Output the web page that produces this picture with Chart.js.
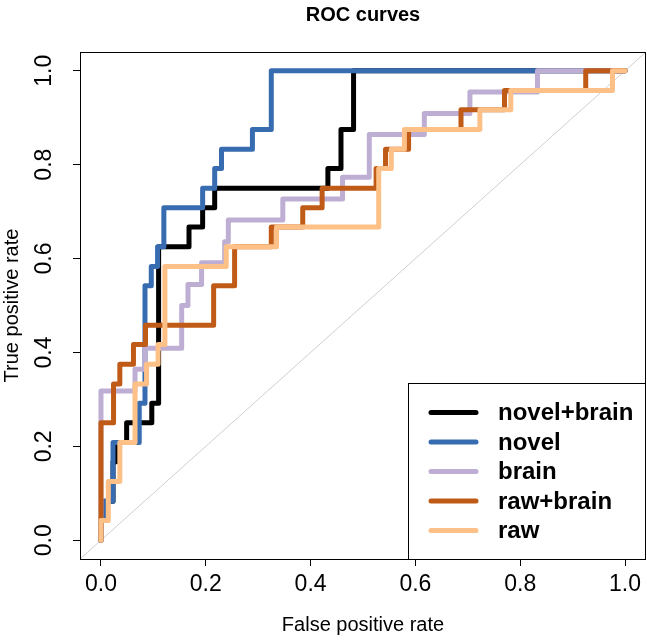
<!DOCTYPE html>
<html>
<head>
<meta charset="utf-8">
<script src="https://cdn.jsdelivr.net/npm/chart.js@4.4.1/dist/chart.umd.min.js"></script>
<style>
html,body{margin:0;padding:0;background:#ffffff;}
#wrap{width:647px;height:641px;}
</style>
</head>
<body>
<div id="wrap"><canvas id="c" width="647" height="641"></canvas></div>
<script>
// ---- data (ROC step curves: false positive rate / true positive rate) ----
const seriesNames = ['novel+brain', 'novel', 'brain', 'raw+brain', 'raw'];
const seriesColors = ['#000000', '#386cb0', '#beaed4', '#bf5b17', '#fdc086'];

const novelBrainFpr = [0, 0, 0.006, 0.006, 0.023, 0.023, 0.03, 0.03, 0.049, 0.049, 0.097, 0.097, 0.11, 0.11, 0.168, 0.168, 0.194, 0.194, 0.217, 0.217, 0.433, 0.433, 0.458, 0.458, 0.482, 0.482, 1];
const novelBrainTpr = [0, 0.042, 0.042, 0.083, 0.083, 0.167, 0.167, 0.208, 0.208, 0.25, 0.25, 0.292, 0.292, 0.625, 0.625, 0.667, 0.667, 0.708, 0.708, 0.75, 0.75, 0.792, 0.792, 0.875, 0.875, 1, 1];

const novelFpr = [0, 0, 0.006, 0.006, 0.023, 0.023, 0.073, 0.073, 0.084, 0.084, 0.096, 0.096, 0.108, 0.108, 0.12, 0.12, 0.194, 0.194, 0.217, 0.217, 0.23, 0.23, 0.289, 0.289, 0.325, 0.325, 1];
const novelTpr = [0, 0.042, 0.042, 0.083, 0.083, 0.208, 0.208, 0.292, 0.292, 0.542, 0.542, 0.583, 0.583, 0.625, 0.625, 0.708, 0.708, 0.75, 0.75, 0.792, 0.792, 0.833, 0.833, 0.875, 0.875, 1, 1];

const brainFpr = [0, 0, 0.065, 0.065, 0.084, 0.084, 0.154, 0.154, 0.166, 0.166, 0.192, 0.192, 0.236, 0.236, 0.243, 0.243, 0.347, 0.347, 0.461, 0.461, 0.512, 0.512, 0.617, 0.617, 0.704, 0.704, 0.833, 0.833, 1];
const brainTpr = [0, 0.318, 0.318, 0.364, 0.364, 0.409, 0.409, 0.5, 0.5, 0.545, 0.545, 0.591, 0.591, 0.636, 0.636, 0.682, 0.682, 0.727, 0.727, 0.773, 0.773, 0.864, 0.864, 0.909, 0.909, 0.955, 0.955, 1, 1];

const rawBrainFpr = [0, 0, 0.024, 0.024, 0.036, 0.036, 0.062, 0.062, 0.085, 0.085, 0.215, 0.215, 0.255, 0.255, 0.325, 0.325, 0.385, 0.385, 0.422, 0.422, 0.525, 0.525, 0.543, 0.543, 0.587, 0.587, 0.687, 0.687, 0.77, 0.77, 0.925, 0.925, 1];
const rawBrainTpr = [0, 0.25, 0.25, 0.333, 0.333, 0.375, 0.375, 0.417, 0.417, 0.458, 0.458, 0.542, 0.542, 0.625, 0.625, 0.667, 0.667, 0.708, 0.708, 0.75, 0.75, 0.792, 0.792, 0.833, 0.833, 0.875, 0.875, 0.917, 0.917, 0.958, 0.958, 1, 1];

const rawFpr = [0, 0, 0.014, 0.014, 0.036, 0.036, 0.065, 0.065, 0.087, 0.087, 0.109, 0.109, 0.122, 0.122, 0.239, 0.239, 0.335, 0.335, 0.53, 0.53, 0.554, 0.554, 0.579, 0.579, 0.723, 0.723, 0.782, 0.782, 0.976, 0.976, 1];
const rawTpr = [0, 0.042, 0.042, 0.125, 0.125, 0.208, 0.208, 0.333, 0.333, 0.375, 0.375, 0.417, 0.417, 0.583, 0.583, 0.625, 0.625, 0.667, 0.667, 0.792, 0.792, 0.833, 0.833, 0.875, 0.875, 0.917, 0.917, 0.958, 0.958, 1, 1];

const diagonalX = [-0.04, 1.04];
const diagonalY = [-0.04, 1.04];

const xTickValues = [0, 0.2, 0.4, 0.6, 0.8, 1.0];
const yTickValues = [0, 0.2, 0.4, 0.6, 0.8, 1.0];

const chartTitle = 'ROC curves';
const xTitle = 'False positive rate';
const yTitle = 'True positive rate';

// ---- build chart ----
const FONT = '"Liberation Sans", Arial, Helvetica, sans-serif';
const fprList = [novelBrainFpr, novelFpr, brainFpr, rawBrainFpr, rawFpr];
const tprList = [novelBrainTpr, novelTpr, brainTpr, rawBrainTpr, rawTpr];
const toPoints = (xs, ys) => xs.map((x, i) => ({x: x, y: ys[i]}));

const datasets = [];
// draw order: raw on top, then raw+brain, brain, novel, novel+brain
for (let i = 0; i < seriesNames.length; i++) {
  datasets.push({
    label: seriesNames[i],
    data: toPoints(fprList[i], tprList[i]),
    borderColor: seriesColors[i],
    backgroundColor: seriesColors[i],
    borderWidth: 5,
    pointRadius: 0,
    fill: false,
    tension: 0,
    borderJoinStyle: 'round',
    borderCapStyle: 'round',
    order: seriesNames.length - 1 - i
  });
}
datasets.push({
  label: 'diagonal',
  data: toPoints(diagonalX, diagonalY),
  borderColor: '#cfcfcf',
  borderWidth: 1,
  pointRadius: 0,
  fill: false,
  order: 10
});

const framePlugin = {
  id: 'frame',
  afterDatasetsDraw(chart) {
    const a = chart.chartArea, c = chart.ctx;
    c.save();
    c.strokeStyle = '#000';
    c.lineWidth = 1;
    c.strokeRect(Math.round(a.left) + 0.5, Math.round(a.top) + 0.5,
                 Math.round(a.right) - Math.round(a.left) - 1, Math.round(a.bottom) - Math.round(a.top));
    c.restore();
  }
};

const boxLegendPlugin = {
  id: 'boxLegend',
  afterDatasetsDraw(chart) {
    const a = chart.chartArea, c = chart.ctx;
    const left = 408.5, top = 383.5;
    const right = Math.round(a.right) - 0.5, bottom = Math.round(a.bottom) + 0.5;
    c.save();
    c.fillStyle = '#fff';
    c.fillRect(left, top, right - left, bottom - top);
    c.strokeStyle = '#000';
    c.lineWidth = 1;
    c.strokeRect(left, top, right - left, bottom - top);
    const step = 29.5;
    const y0 = top + 29;
    c.font = 'bold 24px ' + FONT;
    c.textBaseline = 'middle';
    c.textAlign = 'left';
    for (let i = 0; i < seriesNames.length; i++) {
      const y = y0 + i * step;
      c.strokeStyle = seriesColors[i];
      c.lineWidth = 5;
      c.lineCap = 'round';
      c.beginPath();
      c.moveTo(431, y);
      c.lineTo(476, y);
      c.stroke();
      c.fillStyle = '#000';
      c.fillText(seriesNames[i], 498, y + 1);
    }
    c.restore();
  }
};

new Chart(document.getElementById('c').getContext('2d'), {
  type: 'line',
  data: {datasets: datasets},
  options: {
    responsive: false,
    animation: false,
    devicePixelRatio: 1,
    layout: {padding: {top: 0, right: 1, bottom: 0, left: 0}},
    plugins: {
      legend: {display: false},
      tooltip: {enabled: false},
      title: {
        display: true, text: chartTitle, color: '#000', fullSize: false,
        font: {family: FONT, size: 20, weight: 'bold'},
        padding: {top: 3, bottom: 25}
      }
    },
    scales: {
      x: {
        type: 'linear', min: -0.04, max: 1.04,
        afterBuildTicks: (s) => { s.ticks = xTickValues.map(v => ({value: v})); },
        afterFit: (s) => { s.height = 82; },
        ticks: {
          font: {family: FONT, size: 23}, color: '#000', padding: 5,
          maxRotation: 0, minRotation: 0, autoSkip: false,
          callback: (v) => Number(v).toFixed(1)
        },
        grid: {drawOnChartArea: false, drawTicks: true, tickLength: 7, tickColor: '#000', color: '#000', lineWidth: 1},
        border: {display: false},
        title: {display: true, text: xTitle, color: '#000', font: {family: FONT, size: 20}, padding: {top: 0, bottom: 4}}
      },
      y: {
        type: 'linear', min: -0.04, max: 1.04,
        afterBuildTicks: (s) => { s.ticks = yTickValues.map(v => ({value: v})); },
        afterFit: (s) => { s.width = 80; },
        ticks: {
          font: {family: FONT, size: 23}, color: '#000', padding: 12,
          minRotation: 90, maxRotation: 90, crossAlign: 'center', autoSkip: false,
          callback: (v) => Number(v).toFixed(1)
        },
        grid: {drawOnChartArea: false, drawTicks: true, tickLength: 7, tickColor: '#000', color: '#000', lineWidth: 1},
        border: {display: false},
        title: {display: true, text: yTitle, color: '#000', font: {family: FONT, size: 20}, padding: {top: 0, bottom: 0}}
      }
    }
  },
  plugins: [framePlugin, boxLegendPlugin]
});
</script>
</body>
</html>
